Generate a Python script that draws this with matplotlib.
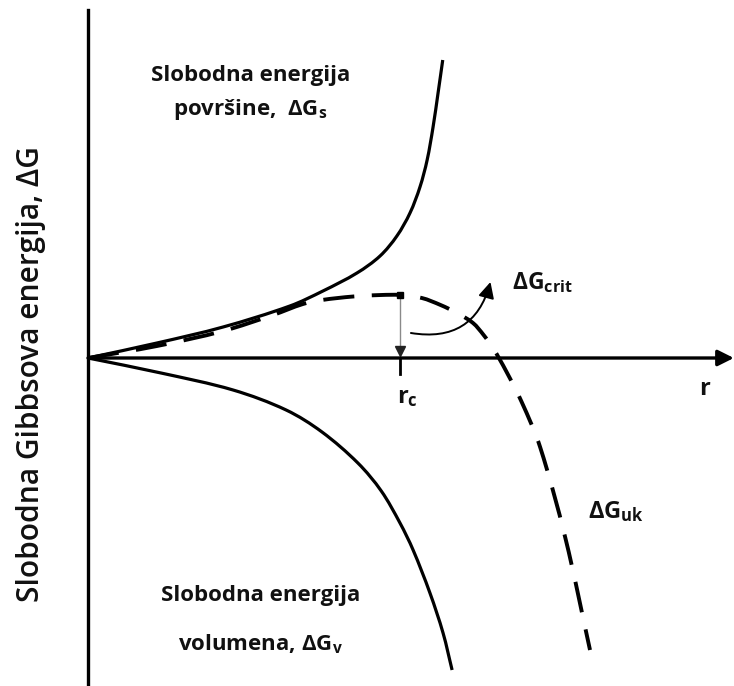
import numpy as np
import matplotlib.pyplot as plt
from matplotlib.path import Path
from matplotlib.patches import PathPatch

plt.rcParams['font.family'] = ['Open Sans', 'DejaVu Sans']
plt.rcParams['mathtext.fontset'] = 'custom'
plt.rcParams['mathtext.rm'] = 'Open Sans:bold'
plt.rcParams['mathtext.it'] = 'Open Sans:bold'
plt.rcParams['mathtext.bf'] = 'Open Sans:bold'

# radius (r_c = 1) and free energy values
r_surface = [0, 0.221, 0.433, 0.647, 0.753, 0.862, 0.936, 0.990, 1.032, 1.064, 1.087, 1.106, 1.122, 1.137]
g_surface = [0, 0.15, 0.31, 0.52, 0.67, 0.85, 1.02, 1.22, 1.45, 1.71, 1.98, 2.31, 2.65, 2.98]

r_total = [0, 0.221, 0.433, 0.593, 0.689, 0.75, 0.85, 0.94, 1.0, 1.07, 1.13, 1.183, 1.234,
           1.268, 1.30, 1.34, 1.39, 1.449, 1.53, 1.609]
g_total = [0, 0.12, 0.27, 0.43, 0.54, 0.58, 0.615, 0.63, 0.63, 0.60, 0.53, 0.45, 0.35,
           0.23, 0.09, -0.13, -0.44, -0.89, -1.80, -2.92]

r_volume = [0, 0.234, 0.465, 0.635, 0.75, 0.865, 0.94, 1.00, 1.042, 1.096, 1.138, 1.167]
g_volume = [0, -0.15, -0.32, -0.52, -0.74, -1.05, -1.33, -1.65, -1.92, -2.35, -2.75, -3.12]

r_crit = 1.0
g_crit = 0.63

XLIM = (-0.282, 2.0705)
YLIM = (-3.28, 3.58)
ASPECT = 100 / 312  # screen size of one G unit relative to one r unit


def smooth_path(xs, ys):
    # chord-length spline through the read points, drawn as cubic Bezier segments
    p = np.column_stack([xs, np.asarray(ys) * ASPECT]).astype(float)
    n = len(p)
    d = np.linalg.norm(np.diff(p, axis=0), axis=1)
    t = np.zeros_like(p)
    for i in range(n):
        if i == 0:
            t[i] = (p[1] - p[0]) / d[0]
        elif i == n - 1:
            t[i] = (p[-1] - p[-2]) / d[-1]
        else:
            t[i] = (p[i + 1] - p[i - 1]) / (d[i - 1] + d[i])
    verts = [p[0]]
    codes = [Path.MOVETO]
    for i in range(n - 1):
        verts += [p[i] + t[i] * d[i] / 3, p[i + 1] - t[i + 1] * d[i] / 3, p[i + 1]]
        codes += [Path.CURVE4] * 3
    verts = np.array(verts)
    verts[:, 1] /= ASPECT
    return Path(verts, codes)


fig = plt.figure(figsize=(7.34, 6.86), dpi=100)
ax = fig.add_axes([0, 0, 1, 1])
ax.set_xlim(*XLIM)
ax.set_ylim(*YLIM)
ax.axis('off')

# axes
ax.plot([0, 0], [-3.3, 3.48], color='black', lw=2.4)
ax.annotate('', xy=(2.07, 0), xytext=(0, 0),
            arrowprops=dict(arrowstyle='-|>', color='black', lw=2.4, mutation_scale=24,
                            shrinkA=0, shrinkB=0))

# curves
ax.add_patch(PathPatch(smooth_path(r_surface, g_surface), fill=False, ec='black', lw=2.3))
ax.add_patch(PathPatch(smooth_path(r_volume, g_volume), fill=False, ec='black', lw=2.3))
ax.add_patch(PathPatch(smooth_path(r_total, g_total), fill=False, ec='black', lw=2.8,
                       linestyle=(0, (8, 4.5))))

# critical point markers
ax.plot([r_crit, r_crit], [g_crit, 0.06], color='#8a8a8a', lw=1.0)
ax.plot([r_crit], [0.07], marker='v', ms=7, color='#222222')
ax.plot([r_crit], [g_crit], marker='s', ms=4, color='black')
ax.plot([r_crit, r_crit], [0, -0.16], color='black', lw=2)

# curved arrow to ΔG_crit
ax.annotate('', xy=(1.29, 0.76), xytext=(1.035, 0.25),
            arrowprops=dict(arrowstyle='-|>', color='black', lw=1.4, mutation_scale=24,
                            shrinkA=0, shrinkB=0, connectionstyle='arc3,rad=0.45'))

bold = dict(fontweight='bold', color='#111111')
ax.text(0.52, 2.83, 'Slobodna energija', ha='center', va='center', fontsize=16, **bold)
ax.text(0.52, 2.49, 'površine,  ΔG$_\\mathregular{s}$', ha='center', va='center', fontsize=16, **bold)
ax.text(0.553, -2.38, 'Slobodna energija', ha='center', va='center', fontsize=16, **bold)
ax.text(0.553, -2.86, 'volumena, ΔG$_\\mathregular{v}$', ha='center', va='center', fontsize=16, **bold)
ax.text(1.359, 0.75, 'ΔG$_\\mathregular{crit}$', ha='left', va='center', fontsize=16.5, **bold)
ax.text(1.603, -1.54, 'ΔG$_\\mathregular{uk}$', ha='left', va='center', fontsize=17, **bold)
ax.text(0.99, -0.39, 'r$_\\mathregular{c}$', ha='left', va='center', fontsize=17, **bold)
ax.text(1.975, -0.31, 'r', ha='center', va='center', fontsize=17, **bold)
ax.text(-0.182, -0.16, 'Slobodna Gibbsova energija, ΔG', rotation=90, ha='center', va='center',
        fontsize=21.5, fontweight='semibold', color='#111111')

fig.savefig('out.png', dpi=100)
